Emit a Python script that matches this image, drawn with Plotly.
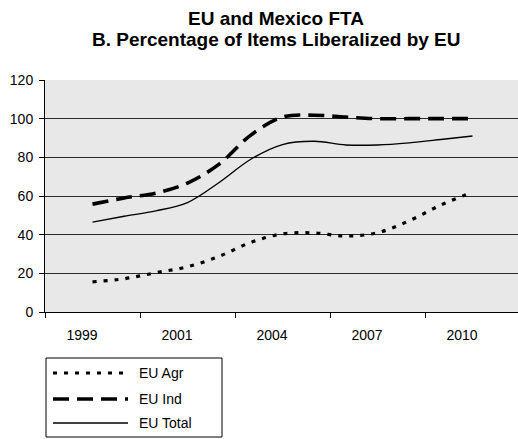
import plotly.graph_objects as go

# Category axis: 15 slots, labelled every third slot
tick_labels = ["1999", "2001", "2004", "2007", "2010"]
n_slots = 15
label_every = 3

# Slots 1..13 carry data
periods = list(range(1, 14))

eu_agr = [15.6, 17.2, 20.3, 23.4, 28.8, 36.0, 40.4, 40.9, 39.3, 41.0, 47.2, 55.3, 62.0]
eu_ind = [55.8, 59.0, 61.5, 66.7, 76.5, 91.5, 100.8, 101.8, 100.8, 100.0, 100.0, 100.0, 100.0]
eu_total = [46.5, 49.5, 52.3, 56.6, 67.0, 79.0, 86.6, 88.3, 86.4, 86.4, 87.5, 89.2, 91.0]

series_names = ["EU Agr", "EU Ind", "EU Total"]
series_values = [eu_agr, eu_ind, eu_total]
series_dash = ["4px,7px", "16px,8px", "solid"]
series_width = [3.2, 3.6, 1.4]

title_lines = ["EU and Mexico FTA", "B. Percentage of Items Liberalized by EU"]

FONT = "Liberation Sans, Arial, sans-serif"
W, H = 518, 439
M_L, M_T, M_B, M_R = 45, 80, 127, 0

# slot centres on a linear axis
x_centres = [p + 0.5 for p in periods]
x_max = n_slots * (W - M_L - M_R) / 475.0

fig = go.Figure()
for name, vals, dash, width in zip(series_names, series_values, series_dash, series_width):
    fig.add_trace(go.Scatter(
        x=x_centres, y=vals, name=name, mode="lines",
        line=dict(color="black", width=width, dash=dash, shape="spline", smoothing=1.0),
        showlegend=False, hoverinfo="skip",
    ))

# invisible carrier trace for the label axis
fig.add_trace(go.Scatter(x=[0], y=[0], xaxis="x2", mode="markers",
                         marker=dict(opacity=0), showlegend=False, hoverinfo="skip"))

boundaries = list(range(0, n_slots + 1, label_every))
label_pos = [b + 1.17 for b in boundaries[:len(tick_labels)]]

fig.update_layout(
    width=W, height=H,
    margin=dict(l=M_L, r=M_R, t=M_T, b=M_B, pad=0),
    paper_bgcolor="white",
    plot_bgcolor="#E8E8E8",
    font=dict(family=FONT, size=14, color="black"),
    xaxis=dict(
        range=[0, x_max], tickmode="array", tickvals=boundaries,
        showticklabels=False, ticks="outside", ticklen=5, tickcolor="black",
        showline=True, linecolor="black", linewidth=1,
        showgrid=False, zeroline=False, fixedrange=True,
    ),
    xaxis2=dict(
        overlaying="x", anchor="y", side="bottom",
        range=[0, x_max], tickmode="array", tickvals=label_pos, ticktext=tick_labels,
        ticks="outside", ticklen=10, tickcolor="rgba(0,0,0,0)",
        showline=False, showgrid=False, zeroline=False,
        tickfont=dict(family=FONT, size=14, color="black"),
    ),
    yaxis=dict(
        range=[0, 120], tickmode="linear", tick0=0, dtick=20,
        ticks="outside", ticklen=5, tickcolor="black",
        showline=True, linecolor="black", linewidth=1,
        showgrid=True, gridcolor="#2b2b2b", gridwidth=1,
        zeroline=False, ticklabelstandoff=3,
        tickfont=dict(family=FONT, size=14, color="black"),
    ),
)

plot_w = W - M_L - M_R
plot_h = H - M_T - M_B


def px_x(px):
    return (px - M_L) / plot_w


def px_y(py):
    return (H - M_B - py) / plot_h


# Two-line bold heading
for line, cy in zip(title_lines, [18, 39]):
    fig.add_annotation(xref="paper", yref="paper", x=px_x(276), y=px_y(cy),
                       xanchor="center", yanchor="middle", showarrow=False,
                       text="<b>%s</b>" % line,
                       font=dict(family=FONT, size=19, color="black"))

# Legend box drawn below the plot
fig.add_shape(type="rect", xref="paper", yref="paper",
              x0=px_x(46), x1=px_x(222), y0=px_y(358), y1=px_y(437),
              line=dict(color="black", width=1), fillcolor="white", layer="above")

row_y = [373, 399, 423]
for name, dash, width, ry in zip(series_names, series_dash, series_width, row_y):
    fig.add_shape(type="line", xref="paper", yref="paper",
                  x0=px_x(53), x1=px_x(128), y0=px_y(ry), y1=px_y(ry),
                  line=dict(color="black", width=width, dash=dash), layer="above")
    fig.add_annotation(xref="paper", yref="paper", x=px_x(137), y=px_y(ry),
                       xanchor="left", yanchor="middle", showarrow=False,
                       text=name, font=dict(family=FONT, size=14, color="black"))

fig.write_html("out.html")
